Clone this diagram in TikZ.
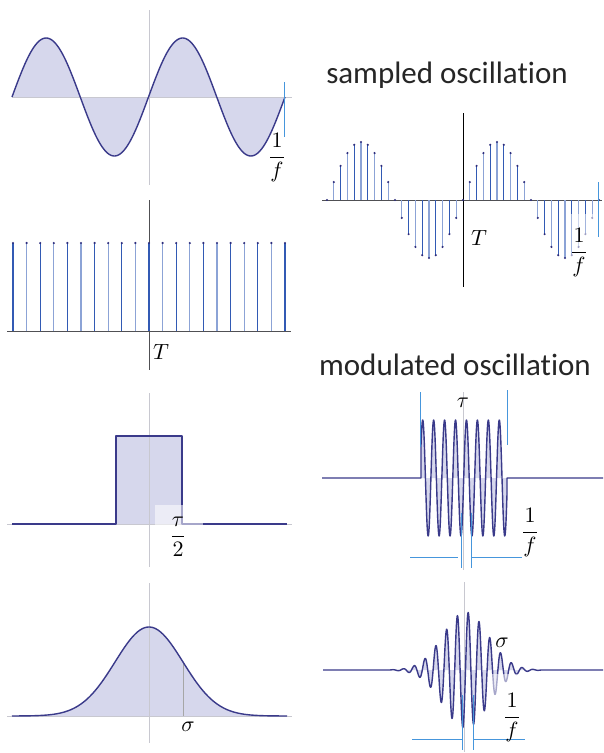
\documentclass[tikz,border=0pt]{standalone}
\usepackage{fontspec}
\newfontfamily\capfont[Ligatures=NoCommon]{Carlito}
\definecolor{waveline}{RGB}{58,58,138}
\definecolor{wavefill}{RGB}{214,215,236}
\definecolor{axisgray}{RGB}{200,200,208}
\definecolor{axisdark}{RGB}{80,80,84}
\definecolor{rulerblue}{RGB}{70,150,220}
\definecolor{stemdark}{RGB}{50,90,180}
\definecolor{stemlight}{RGB}{140,163,214}
\definecolor{dotc}{RGB}{45,45,125}
\begin{document}
\begin{tikzpicture}[x=1pt,y=-1pt,
  wave/.style={draw=waveline,line width=1.4pt,line join=round},
  axis/.style={draw=axisgray,line width=0.9pt},
  darkaxis/.style={draw=axisdark,line width=0.9pt},
  ruler/.style={draw=rulerblue,line width=0.9pt},
  stemA/.style={draw=stemdark,line width=1.2pt},
  stemB/.style={draw=stemlight,line width=1.2pt},
  veil/.style={fill=white,fill opacity=0.55},
  lab/.style={scale=2.2,transform shape,inner sep=0pt},
  head/.style={font=\capfont\fontsize{31}{36}\selectfont,text=black!85,inner sep=0pt}]
  \useasboundingbox (0,0) rectangle (604,753);
  \fill[white] (0,0) rectangle (604,753);

  \fill[wavefill] plot[domain=12:285,samples=200] (\x,{97-59*sin((\x-12)/136.5*360)}) -- cycle;
  \draw[axis] (12,97) -- (292,97);
  \draw[axis] (149,10) -- (149,185);
  \draw[wave] plot[domain=12:285,samples=200] (\x,{97-59*sin((\x-12)/136.5*360)});
  \draw[ruler] (284,82) -- (284,137);
  \node[lab] (finvA) at (277,158) {$\displaystyle\frac{1}{f}$};

  \draw[darkaxis] (7,331) -- (291,331);
  \draw[darkaxis] (149,200) -- (149,370);
  \foreach \k in {0,2,...,20}
    \draw[stemA] (13+13.6*\k,331) -- (13+13.6*\k,243);
  \foreach \k in {1,3,...,19}
    \draw[stemB] (13+13.6*\k,331) -- (13+13.6*\k,243);
  \foreach \k in {0,...,20}
    \fill[dotc] (13+13.6*\k,243) circle (1.2pt);
  \node[lab] (perA) at (161,352) {$T$};

  \node[head] (sampled) at (447,75) {sampled oscillat\kern0pt ion};
  \draw[darkaxis] (322,200) -- (602,200);
  \draw[black,line width=0.8pt] (463,113) -- (463,287);
  \foreach \k in {0,2,...,40}
    \draw[stemA] ({327+6.8*\k},200) -- ({327+6.8*\k},{200-58*sin(18*\k)});
  \foreach \k in {1,3,...,39}
    \draw[stemB] ({327+6.8*\k},200) -- ({327+6.8*\k},{200-58*sin(18*\k)});
  \foreach \k in {0,...,40}
    \fill[dotc] ({327+6.8*\k},{200-58*sin(18*\k)}) circle (1.2pt);
  \draw[ruler] (598,182) -- (598,237);
  \fill[veil] (569,214) rectangle (598,262);
  \node[lab] (perB) at (479,238) {$T$};
  \node[lab] (finvB) at (579,253) {$\displaystyle\frac{1}{f}$};

  \fill[wavefill] (116,436) rectangle (182,524);
  \draw[axis] (7,524) -- (292,524);
  \draw[axis] (149,393) -- (149,567);
  \draw[wave] (12,524) -- (116,524) -- (116,436) -- (182,436) -- (182,524) -- (287,524);
  \fill[veil] (155,505) rectangle (203,526);
  \node[lab] (halftau) at (178,537) {$\displaystyle\frac{\tau}{2}$};

  \fill[wavefill] plot[domain=12:287,samples=150] (\x,{716-89*exp(-0.5*((\x-149)/34)^2)}) -- cycle;
  \draw[axis] (7,716) -- (292,716);
  \draw[axis] (149,583) -- (149,743);
  \draw[axis,draw=gray!70] (183,716) -- (183,663);
  \draw[wave] plot[domain=12:287,samples=150] (\x,{716-89*exp(-0.5*((\x-149)/34)^2)});
  \node[lab] (sigA) at (188,727) {$\sigma$};

  \node[head] (modulated) at (455,365) {modulated oscillat\kern0pt ion};
  \fill[wavefill] (421,478) -- plot[domain=421:507,samples=300] (\x,{478-58*cos((\x-422.7)/10.94*360)}) -- (507,478) -- cycle;
  \draw[axis] (463,392) -- (463,570);
  \draw[wave] (322,478) -- (421,478) -- plot[domain=421:507,samples=300] (\x,{478-58*cos((\x-422.7)/10.94*360)}) -- (507,478) -- (603,478);
  \draw[ruler] (420,392) -- (420,447);
  \draw[ruler] (507,390) -- (507,445);
  \draw[ruler] (410,557) -- (458,557);
  \draw[ruler] (472,557) -- (522,557);
  \draw[ruler] (461,513) -- (461,568);
  \draw[ruler] (471,513) -- (471,568);
  \node[lab] (tauB) at (463,403) {$\tau$};
  \node[lab] (finvC) at (530,533) {$\displaystyle\frac{1}{f}$};

  \fill[wavefill] plot[domain=390:541,samples=500] (\x,{670-58*exp(-0.5*((\x-465.5)/22.5)^2)*sin((\x-465.5)/10.8*360)}) -- cycle;
  \draw[axis] (464,582) -- (464,752);
  \draw[wave] (323,670) -- (390,670) -- plot[domain=390:541,samples=500] (\x,{670-58*exp(-0.5*((\x-465.5)/22.5)^2)*sin((\x-465.5)/10.8*360)}) -- (603,670);
  \fill[veil] (489,674) rectangle (528,698);
  \draw[ruler] (412,739) -- (462,739);
  \draw[ruler] (473,739) -- (525,739);
  \draw[ruler] (462,695) -- (462,750);
  \draw[ruler] (473,695) -- (473,750);
  \node[lab] (sigB) at (502,643) {$\sigma$};
  \node[lab] (finvD) at (512,718) {$\displaystyle\frac{1}{f}$};
\end{tikzpicture}
\end{document}
